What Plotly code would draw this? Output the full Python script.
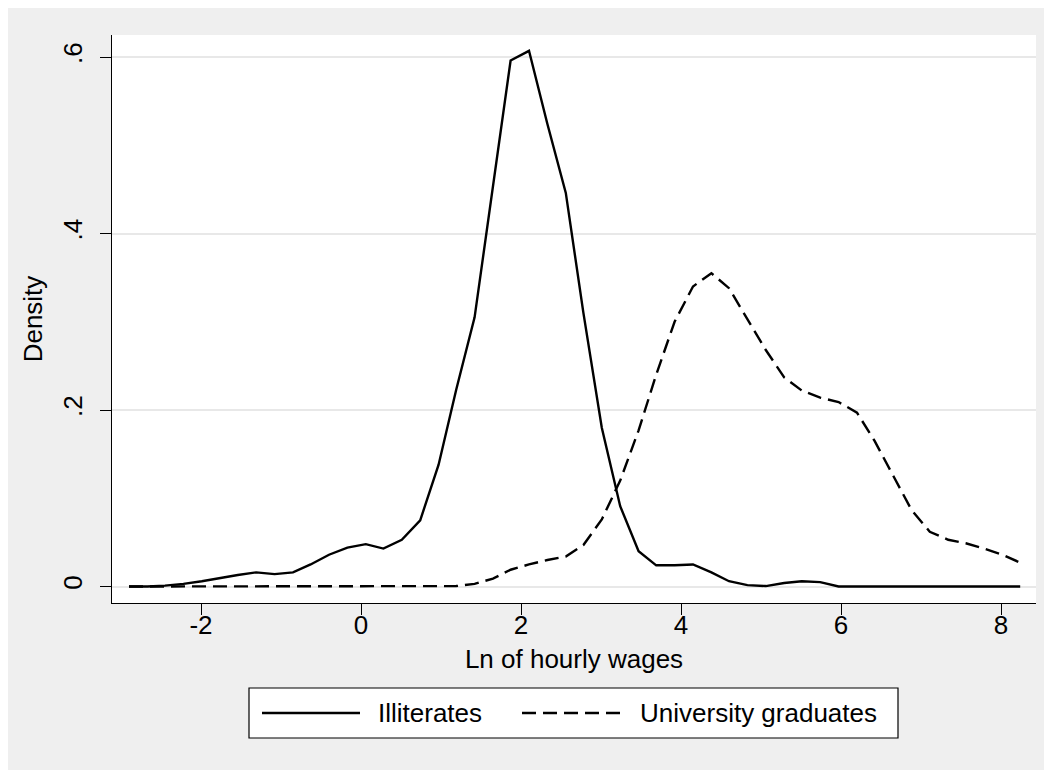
import plotly.graph_objects as go

# ---- data ----
wage_grid = [-2.90, -2.67, -2.45, -2.22, -1.99, -1.76, -1.54, -1.31, -1.08, -0.85,
             -0.63, -0.40, -0.17, 0.06, 0.28, 0.51, 0.74, 0.97, 1.19, 1.42,
             1.65, 1.87, 2.10, 2.33, 2.56, 2.78, 3.01, 3.24, 3.47, 3.69,
             3.92, 4.15, 4.38, 4.60, 4.83, 5.06, 5.29, 5.51, 5.74, 5.97,
             6.20, 6.42, 6.65, 6.88, 7.11, 7.34, 7.56, 7.79, 8.02, 8.24]

illiterates = [0.000, 0.000, 0.001, 0.003, 0.006, 0.010, 0.013, 0.016, 0.014, 0.016,
               0.025, 0.036, 0.044, 0.048, 0.043, 0.053, 0.075, 0.138, 0.223, 0.305,
               0.452, 0.596, 0.607, 0.524, 0.446, 0.310, 0.180, 0.091, 0.040, 0.024,
               0.024, 0.025, 0.016, 0.006, 0.0015, 0.0005, 0.004, 0.006, 0.005, 0.000,
               0.000, 0.000, 0.000, 0.000, 0.000, 0.000, 0.000, 0.000, 0.000, 0.000]

graduates = [0.000, 0.000, 0.000, 0.000, 0.000, 0.000, 0.000, 0.000, 0.000, 0.000,
             0.000, 0.000, 0.000, 0.000, 0.000, 0.000, 0.000, 0.000, 0.0005, 0.003,
             0.009, 0.019, 0.025, 0.030, 0.034, 0.047, 0.076, 0.120, 0.177, 0.240,
             0.300, 0.340, 0.355, 0.338, 0.303, 0.268, 0.237, 0.222, 0.214, 0.209,
             0.197, 0.165, 0.126, 0.087, 0.062, 0.053, 0.049, 0.043, 0.036, 0.027]

series_names = ["Illiterates", "University graduates"]
x_ticks = [-2, 0, 2, 4, 6, 8]
x_tick_text = ["-2", "0", "2", "4", "6", "8"]
y_ticks = [0, 0.2, 0.4, 0.6]
y_tick_text = ["0", ".2", ".4", ".6"]
x_title = "Ln of hourly wages"
y_title = "Density"

# ---- layout geometry (figure pixels; page body adds an 8px offset) ----
W, H = 1044, 762
L, R, T, B = 104, 1028, 27, 595   # plot area edges
FONT = "Liberation Sans, Arial, sans-serif"
FS = 26
GRAY = "#efefef"
DASH = "14px,7px"

def px_x(p):
    return (p - L) / (R - L)

def px_y(p):
    return (B - p) / (B - T)

fig = go.Figure()
fig.add_trace(go.Scatter(x=wage_grid, y=illiterates, mode="lines", name=series_names[0],
                         line=dict(color="black", width=2.4), showlegend=False))
fig.add_trace(go.Scatter(x=wage_grid, y=graduates, mode="lines", name=series_names[1],
                         line=dict(color="black", width=2.4, dash=DASH), showlegend=False))

# ---- hand-built legend box (Stata style) ----
LEG = dict(x0=241, x1=890, y0=680, y1=730)
leg_mid = (LEG["y0"] + LEG["y1"]) / 2
shapes = [
    dict(type="rect", xref="paper", yref="paper",
         x0=px_x(LEG["x0"]), x1=px_x(LEG["x1"]), y0=px_y(LEG["y1"]), y1=px_y(LEG["y0"]),
         fillcolor="white", line=dict(color="black", width=1.2)),
    dict(type="line", xref="paper", yref="paper",
         x0=px_x(254), x1=px_x(352), y0=px_y(leg_mid), y1=px_y(leg_mid),
         line=dict(color="black", width=2.4)),
    dict(type="line", xref="paper", yref="paper",
         x0=px_x(514), x1=px_x(614), y0=px_y(leg_mid), y1=px_y(leg_mid),
         line=dict(color="black", width=2.4, dash=DASH)),
]
annotations = [
    dict(text=series_names[0], xref="paper", yref="paper", x=px_x(368), y=px_y(leg_mid),
         xanchor="left", yanchor="middle", showarrow=False,
         font=dict(family=FONT, size=FS, color="black")),
    dict(text=series_names[1], xref="paper", yref="paper", x=px_x(630), y=px_y(leg_mid),
         xanchor="left", yanchor="middle", showarrow=False,
         font=dict(family=FONT, size=FS, color="black")),
]

fig.update_layout(
    width=W, height=H,
    margin=dict(l=L, r=W - R, t=T, b=H - B, pad=0),
    paper_bgcolor=GRAY, plot_bgcolor="white",
    font=dict(family=FONT, size=FS, color="black"),
    shapes=shapes, annotations=annotations,
    showlegend=False,
    xaxis=dict(range=[(L + 8 - 361) / 80, (R + 8 - 361) / 80], tickvals=x_ticks, ticktext=x_tick_text,
               showgrid=False, zeroline=False, showline=True, linecolor="black", linewidth=1.3,
               ticks="outside", ticklen=11, tickcolor="black", tickwidth=1.3,
               ticklabelstandoff=-12,
               tickfont=dict(family=FONT, size=FS, color="black"),
               title=dict(text=x_title, standoff=10, font=dict(family=FONT, size=FS, color="black"))),
    yaxis=dict(range=[(586.5 - (B + 8)) / 882.5, (586.5 - (T + 8)) / 882.5],
               tickvals=y_ticks, ticktext=y_tick_text,
               showgrid=True, gridcolor="#e8e8e8", gridwidth=2,
               zeroline=False, showline=True, linecolor="black", linewidth=1.3,
               ticks="outside", ticklen=11, tickcolor="black", tickwidth=1.3, tickangle=-90,
               ticklabelstandoff=7,
               tickfont=dict(family=FONT, size=FS, color="black"),
               title=dict(text=y_title, standoff=8, font=dict(family=FONT, size=FS, color="black"))),
)

fig.write_html("out.html")
